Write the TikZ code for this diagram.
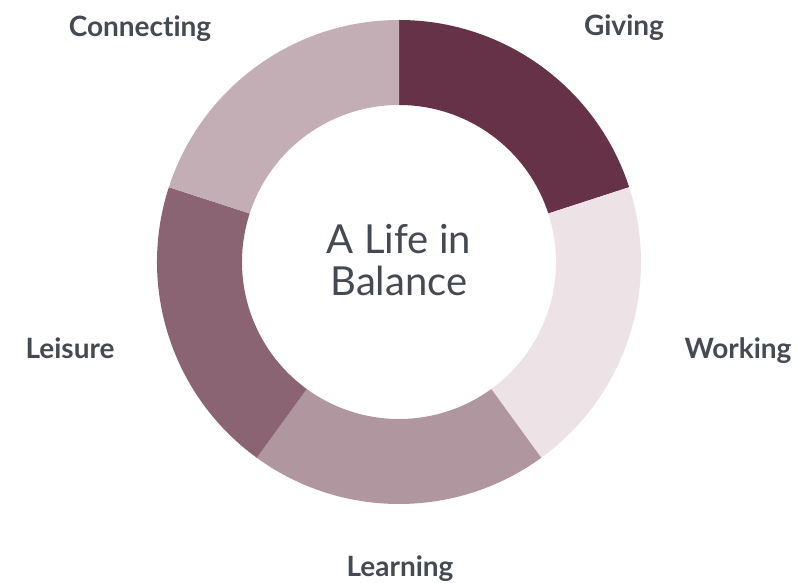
\documentclass[tikz,border=0pt]{standalone}
\usepackage{fontspec}
\setmainfont{Lato}[Ligatures={NoCommon,NoRare}]
\definecolor{givingc}{HTML}{663247}
\definecolor{workingc}{HTML}{EDE3E6}
\definecolor{learningc}{HTML}{B0969F}
\definecolor{leisurec}{HTML}{8A6473}
\definecolor{connectingc}{HTML}{C4AEB5}
\definecolor{labelgray}{HTML}{454A52}
\begin{document}
\begin{tikzpicture}[x=1pt,y=1pt,
	lbl/.style={font=\bfseries\fontsize{28}{32}\selectfont, text=labelgray, anchor=base, inner sep=0pt},
	declare function={ rout=242; rin=157; }]
	\useasboundingbox (0,0) rectangle (797,583);
	% ring segments, clockwise from the top
	\begin{scope}[shift={(399,321)}]
	\foreach \a/\b/\c in {90/18/givingc,18/-54/workingc,-54/-126/learningc,-126/-198/leisurec,-198/-270/connectingc}
		\fill[\c] (\a:rout) arc[start angle=\a, end angle=\b, radius=rout] -- (\b:rin) arc[start angle=\b, end angle=\a, radius=rin] -- cycle;
	\end{scope}
	\node[font=\fontsize{40}{42}\selectfont, text=labelgray, align=center] (centre) at (399,323) {A Life in\\Balance};
	\node[lbl] (connecting) at (140,546) {Connecting};
	\node[lbl] (giving) at (624,547) {Giving};
	\node[lbl] (working) at (738,224) {Working};
	\node[lbl] (leisure) at (70,224) {Leisure};
	\node[lbl] (learning) at (400,6) {Learning};
\end{tikzpicture}
\end{document}
